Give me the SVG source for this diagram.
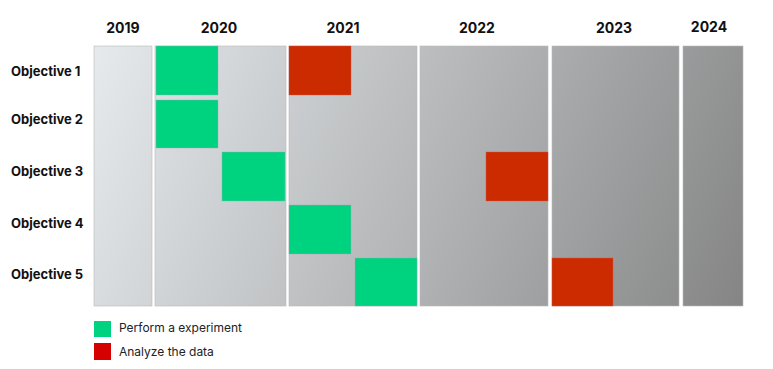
<svg xmlns="http://www.w3.org/2000/svg" width="773" height="369" viewBox="0 0 773 369">
<style>
.yr{font-family:Inter,"Liberation Sans",sans-serif;font-weight:700;font-size:14px;fill:#111;text-anchor:middle}
.obj{font-family:Inter,"Liberation Sans",sans-serif;font-weight:700;font-size:13px;fill:#111}
.lg{font-family:Inter,"Liberation Sans",sans-serif;font-size:12px;fill:#222}
.col{fill:url(#bg);stroke:#b8b8b8;stroke-width:0.6}
.g{fill:#00D37F;stroke:#9ab;stroke-width:0.4}
.r{fill:#CC2B00;stroke:#c55;stroke-width:0.4}
</style>
<defs>
<linearGradient id="bg" gradientUnits="userSpaceOnUse" x1="94" y1="46" x2="743" y2="306">
<stop offset="0" stop-color="#E6EAED"/>
<stop offset="1" stop-color="#858585"/>
</linearGradient>
</defs>
<g id="years">
<text class="yr" x="123" y="33">2019</text>
<text class="yr" x="219" y="33">2020</text>
<text class="yr" x="343" y="33">2021</text>
<text class="yr" x="477" y="33">2022</text>
<text class="yr" x="614" y="33">2023</text>
<text class="yr" x="709" y="32">2024</text>
</g>
<g id="columns">
<rect class="col" x="94" y="46" width="58" height="260"/>
<rect class="col" x="155" y="46" width="131" height="260"/>
<rect class="col" x="289" y="46" width="128" height="260"/>
<rect class="col" x="420" y="46" width="128" height="260"/>
<rect class="col" x="552" y="46" width="127" height="260"/>
<rect class="col" x="683" y="46" width="60" height="260"/>
</g>
<g id="objective-1">
<text class="obj" x="11" y="76">Objective 1</text>
<rect class="g" x="156" y="46" width="62" height="49"/>
<rect class="r" x="289" y="46" width="62" height="49"/>
</g>
<g id="objective-2">
<text class="obj" x="11" y="124">Objective 2</text>
<rect class="g" x="156" y="100" width="62" height="48"/>
</g>
<g id="objective-3">
<text class="obj" x="11" y="176">Objective 3</text>
<rect class="g" x="222" y="152" width="63" height="49"/>
<rect class="r" x="486" y="152" width="62" height="49"/>
</g>
<g id="objective-4">
<text class="obj" x="11" y="228">Objective 4</text>
<rect class="g" x="289" y="205" width="62" height="49"/>
</g>
<g id="objective-5">
<text class="obj" x="11" y="279">Objective 5</text>
<rect class="g" x="355" y="258" width="62" height="48"/>
<rect class="r" x="552" y="258" width="61" height="48"/>
</g>
<g id="connectors"/>
<g id="legend">
<rect x="94" y="321" width="17" height="16" fill="#00D37F"/>
<text class="lg" x="119" y="332">Perform a experiment</text>
<rect x="94" y="343" width="17" height="17" fill="#D50000"/>
<text class="lg" x="119" y="356">Analyze the data</text>
</g>
</svg>
